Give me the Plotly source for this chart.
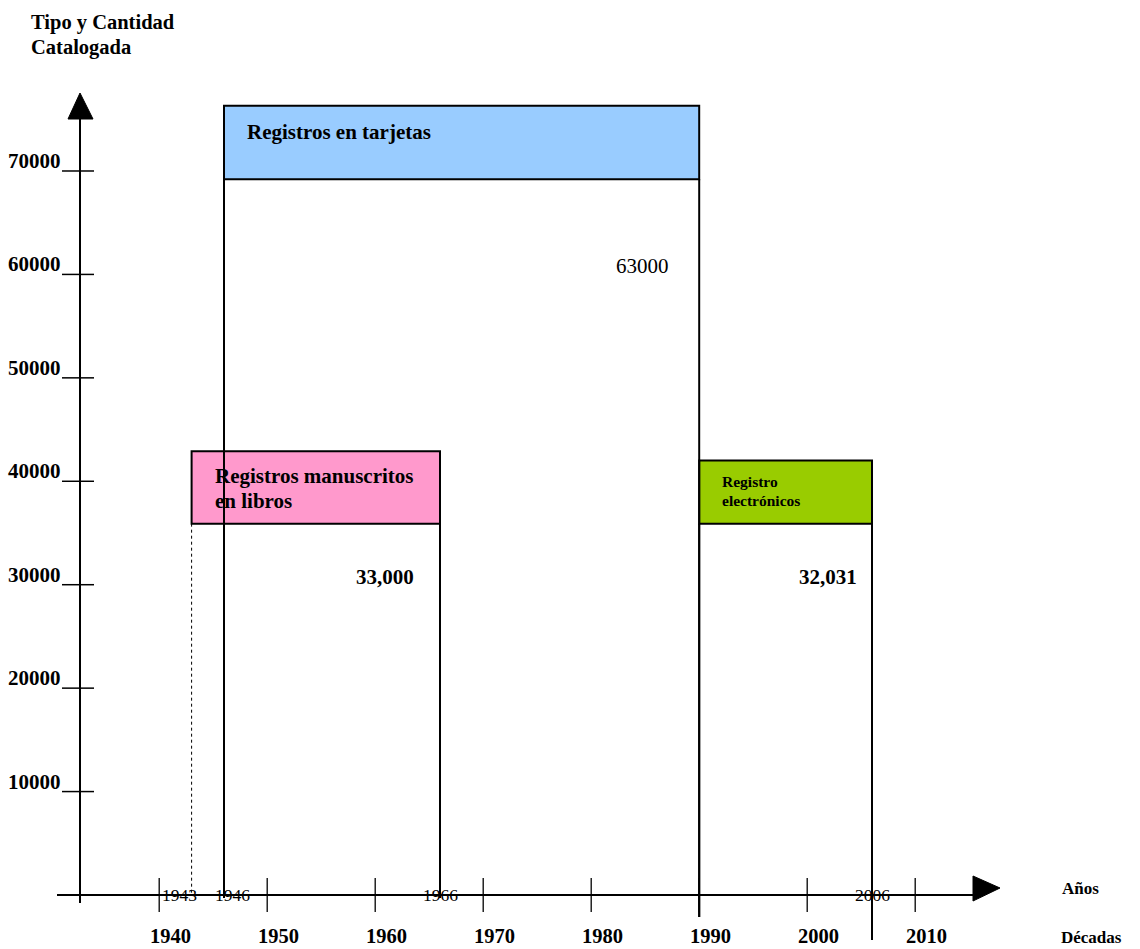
import plotly.graph_objects as go

# ---------------- data ----------------
decades = [1940, 1950, 1960, 1970, 1980, 1990, 2000, 2010]
decade_labels = ["1940", "1950", "1960", "1970", "1980", "1990", "2000", "2010"]
y_ticks = [10000, 20000, 30000, 40000, 50000, 60000, 70000]
y_tick_labels = ["10000", "20000", "30000", "40000", "50000", "60000", "70000"]
periods = ["Registros manuscritos<br>en libros", "Registros en tarjetas", "Registro<br>electrónicos"]
start_years = [1943, 1946, 1990]
end_years = [1966, 1990, 2006]
counts = [33000, 63000, 32031]
count_labels = ["33,000", "63000", "32,031"]

# ---------------- layout / style ----------------
W, H = 1140, 949
X_PX_PER_YEAR = 10.8
X_REF_YEAR, X_REF_PX = 1975, 537.2
Y_PX_PER_UNIT = 0.010343
Y_ZERO_PX = 895
FONT = "Liberation Serif"

def px_to_year(px):
    return X_REF_YEAR + (px - X_REF_PX) / X_PX_PER_YEAR

def px_to_val(py):
    return (Y_ZERO_PX - py) / Y_PX_PER_UNIT

def dpx_val(d):
    return d / Y_PX_PER_UNIT

BAND_TOP = [42900, 76300, 42000]
BAND_BOTTOM = [35900, 69200, 35900]
FILL = ["#FF99CC", "#99CCFF", "#99CC00"]
RIGHT_LINE_BOTTOM_PX = [898, 917, 940]
LEFT_LINE_BOTTOM_PX = [895, 898, 917]
LEFT_DOTTED = [True, False, False]
LABEL_SIZE = [21, 21, 15.5]
LABEL_LINE_GAP = [25, 25, 19]
LABEL_FIRST_OFF = [25, 26, 21]
COUNT_XSHIFT = [-24, -28, -13]
COUNT_YSHIFT = [-23, -23, -13]
COUNT_BOLD = [True, False, True]

shapes = []
annotations = []
black = "#000000"

def line(x0, y0, x1, y1, w=2, dash="solid"):
    shapes.append(dict(type="line", xref="x", yref="y", x0=x0, y0=y0, x1=x1, y1=y1,
                       line=dict(color=black, width=w, dash=dash), layer="above"))

# boxes (fills first)
for i in range(len(periods)):
    shapes.append(dict(type="rect", xref="x", yref="y", x0=start_years[i], x1=end_years[i],
                       y0=BAND_BOTTOM[i], y1=BAND_TOP[i], fillcolor=FILL[i],
                       line=dict(color=black, width=2), layer="below"))

# vertical period lines
for i in range(len(periods)):
    if LEFT_DOTTED[i]:
        line(start_years[i], BAND_BOTTOM[i], start_years[i], px_to_val(LEFT_LINE_BOTTOM_PX[i]), w=1, dash="dot")
    else:
        line(start_years[i], BAND_BOTTOM[i], start_years[i], px_to_val(LEFT_LINE_BOTTOM_PX[i]), w=2)
    line(end_years[i], BAND_BOTTOM[i], end_years[i], px_to_val(RIGHT_LINE_BOTTOM_PX[i]), w=2)

# axes
yaxis_x = px_to_year(80)
line(yaxis_x, px_to_val(903), yaxis_x, px_to_val(112), w=2)
line(px_to_year(57), 0, px_to_year(974), 0, w=2)
# arrowheads
shapes.append(dict(type="path", xref="x", yref="y",
                   path=f"M {px_to_year(80)},{px_to_val(93)} L {px_to_year(68)},{px_to_val(119)} L {px_to_year(93)},{px_to_val(119)} Z",
                   fillcolor=black, line=dict(color=black, width=1)))
shapes.append(dict(type="path", xref="x", yref="y",
                   path=f"M {px_to_year(1000)},{px_to_val(888)} L {px_to_year(973)},{px_to_val(876)} L {px_to_year(973)},{px_to_val(901)} Z",
                   fillcolor=black, line=dict(color=black, width=1)))

# y ticks
for v, lab in zip(y_ticks, y_tick_labels):
    line(px_to_year(62), v, px_to_year(94), v, w=1.5)
    annotations.append(dict(x=px_to_year(63), y=v, xref="x", yref="y", text=lab, showarrow=False,
                            xanchor="right", yanchor="middle", yshift=10,
                            font=dict(family=FONT, size=21, color=black, weight="bold")))

# decade ticks & labels
for d, lab in zip(decades, decade_labels):
    line(d, dpx_val(17), d, -dpx_val(17), w=1.3)
    annotations.append(dict(x=d, y=px_to_val(948), xref="x", yref="y", text=lab, showarrow=False,
                            xanchor="center", yanchor="bottom", xshift=11, borderpad=0,
                            font=dict(family=FONT, size=20.5, color=black, weight="bold")))

# boundary year labels on axis
boundary = sorted(set(start_years + end_years) - set(decades))
for yr in boundary:
    annotations.append(dict(x=yr, y=0, xref="x", yref="y", text=str(yr), showarrow=False,
                            xanchor="center", yanchor="middle",
                            xshift={1943: -12, 1946: 8}.get(yr, 0),
                            font=dict(family=FONT, size=17.5, color=black)))

# period labels
for i, p in enumerate(periods):
    for k, ln in enumerate(p.split("<br>")):
        annotations.append(dict(x=start_years[i], y=BAND_TOP[i], xref="x", yref="y", text=ln,
                                showarrow=False, xanchor="left", yanchor="middle", xshift=21,
                                yshift=-(LABEL_FIRST_OFF[i] + k * LABEL_LINE_GAP[i]),
                                font=dict(family=FONT, size=LABEL_SIZE[i], color=black, weight="bold")))

# count labels
for i, lab in enumerate(count_labels):
    annotations.append(dict(x=end_years[i], y=counts[i], xref="x", yref="y", text=lab, showarrow=False,
                            xanchor="right", yanchor="middle", xshift=COUNT_XSHIFT[i], yshift=COUNT_YSHIFT[i],
                            font=dict(family=FONT, size=21, color=black,
                                      weight=("bold" if COUNT_BOLD[i] else "normal"))))

# titles
for txt, py in [("Tipo y Cantidad", 22), ("Catalogada", 47)]:
    annotations.append(dict(x=px_to_year(29), y=px_to_val(py), xref="x", yref="y", text=txt, showarrow=False,
                            xanchor="left", yanchor="middle",
                            font=dict(family=FONT, size=20.5, color=black, weight="bold")))
annotations.append(dict(x=px_to_year(1060), y=px_to_val(888), xref="x", yref="y", text="Años", showarrow=False,
                        xanchor="left", yanchor="middle",
                        font=dict(family=FONT, size=17, color=black, weight="bold")))
annotations.append(dict(x=px_to_year(1060), y=px_to_val(948), xref="x", yref="y", text="Décadas", showarrow=False,
                        xanchor="left", yanchor="bottom", borderpad=0,
                        font=dict(family=FONT, size=17, color=black, weight="bold")))

fig = go.Figure()
fig.add_trace(go.Scatter(x=[px_to_year(0)], y=[0], mode="markers", marker=dict(opacity=0),
                         hoverinfo="skip", showlegend=False))
fig.update_layout(
    width=W, height=H, autosize=False,
    margin=dict(l=0, r=0, t=0, b=0, pad=0),
    paper_bgcolor="white", plot_bgcolor="white",
    xaxis=dict(range=[px_to_year(0), px_to_year(W)], visible=False, showgrid=False,
               zeroline=False, fixedrange=True),
    yaxis=dict(range=[px_to_val(H), px_to_val(0)], visible=False, showgrid=False,
               zeroline=False, fixedrange=True),
    shapes=shapes, annotations=annotations, showlegend=False,
)
fig.write_html("out.html", config={"displayModeBar": False},
               post_script="document.body.style.margin='0';document.body.style.overflow='hidden';")
